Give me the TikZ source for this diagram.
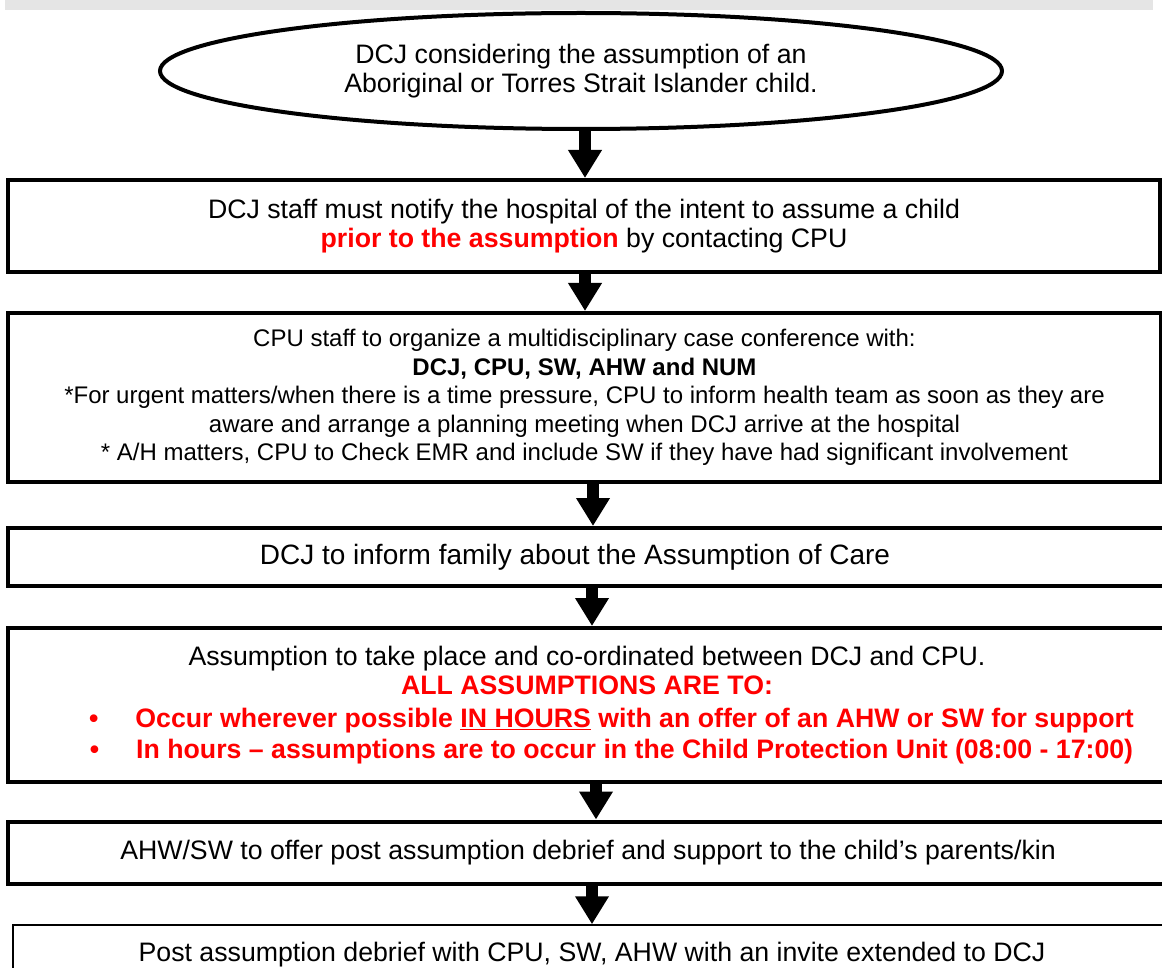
\documentclass[tikz,border=0pt]{standalone}
\usepackage{fontspec}
\setmainfont{Liberation Sans}
\usetikzlibrary{shapes.geometric,arrows.meta}

\tikzset{
	stepbox/.style={draw, line width=4pt, inner sep=0pt, align=center, font=\fontsize{26.7}{29}\selectfont},
	flowarrow/.style={line width=12pt, -{Triangle[width=32pt,length=28pt]}},
}

\begin{document}
\begin{tikzpicture}[x=1pt,y=-1pt]
	\useasboundingbox (0,0) rectangle (1162,968);
	\clip (0,0) rectangle (1162,968);
	\fill[black!10] (5,0) rectangle (1153,10);

	% steps
	\node[stepbox, ellipse, minimum width=842pt, minimum height=116pt] (start) at (581,71)
		{DCJ considering the assumption of an\\ Aboriginal or Torres Strait Islander child.};
	\node[stepbox, minimum width=1152pt, minimum height=92pt] (notify) at (584,226)
		{DCJ staff must notify the hospital of the intent to assume a child\\ \textcolor{red}{\textbf{prior to the assumption}} by contacting CPU};
	\node[stepbox, minimum width=1153pt, minimum height=169pt, font=\fontsize{24}{28.5}\selectfont] (conference) at (584.5,397.5)
		{CPU staff to organize a multidisciplinary case conference with:\\
		\textbf{DCJ, CPU, SW, AHW and NUM}\\
		*For urgent matters/when there is a time pressure, CPU to inform health team as soon as they are\\
		aware and arrange a planning meeting when DCJ arrive at the hospital\\
		* A/H matters, CPU to Check EMR and include SW if they have had significant involvement};
	\node[stepbox, minimum width=1162pt, minimum height=58pt, font=\fontsize{28}{30}\selectfont] (inform) at (589,557)
		{\hspace*{-28pt}DCJ to inform family about the Assumption of Care};
	\node[stepbox, minimum width=1158pt, minimum height=154pt] (takeplace) at (587,705)
		{Assumption to take place and co-ordinated between DCJ and CPU.\\
		\textcolor{red}{\textbf{ALL ASSUMPTIONS ARE TO:}}\\[4pt]
		\hspace*{49pt}\textcolor{red}{\textbf{•\hspace{37pt}Occur wherever possible \underline{IN HOURS} with an offer of an AHW or SW for support}}\\[2pt]
		\hspace*{49pt}\textcolor{red}{\textbf{•\hspace{37pt}In hours – assumptions are to occur in the Child Protection Unit (08:00 - 17:00)}}};
	\node[stepbox, minimum width=1160pt, minimum height=62pt] (debrief) at (588,852.5)
		{AHW/SW to offer post assumption debrief and support to the child’s parents/kin};
	\node[stepbox, line width=1.5pt, minimum width=1158pt, minimum height=60pt] (final) at (592,955)
		{Post assumption debrief with CPU, SW, AHW with an invite extended to DCJ};

	% arrows
	\draw[flowarrow] ([xshift=4pt]start.south) -- ([xshift=1pt]notify.north);
	\draw[flowarrow] ([xshift=1pt]notify.south) -- ([xshift=0.5pt]conference.north);
	\draw[flowarrow] ([xshift=8.5pt]conference.south) -- ([xshift=4pt]inform.north);
	\draw[flowarrow] ([xshift=3pt]inform.south) -- ([xshift=5pt]takeplace.north);
	\draw[flowarrow] ([xshift=9pt]takeplace.south) -- ([xshift=8pt]debrief.north);
	\draw[flowarrow] ([xshift=4pt]debrief.south) -- (final.north);
\end{tikzpicture}
\end{document}
